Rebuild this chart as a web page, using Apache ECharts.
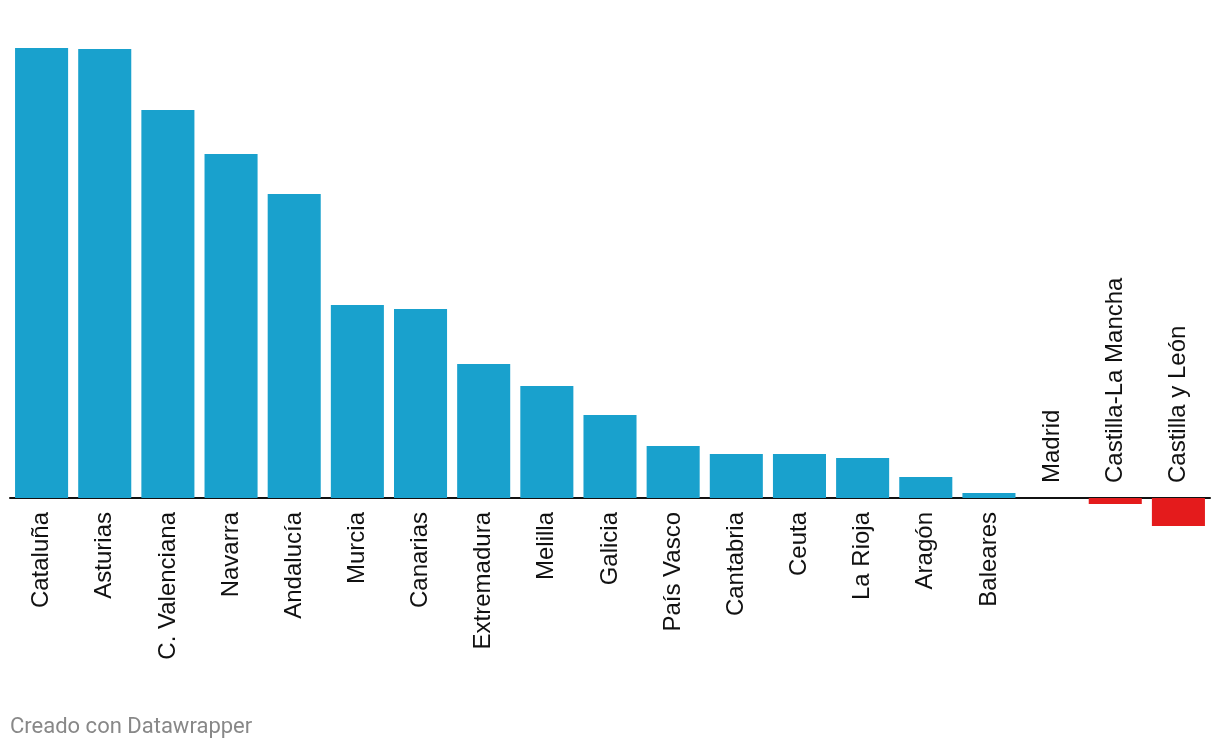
<!DOCTYPE html>
<html lang="es">
<head>
    <meta charset="UTF-8">
    <title>Comunidades</title>
    <script src="https://cdn.jsdelivr.net/npm/echarts@6.0.0/dist/echarts.min.js"></script>
    <style>
        html, body { margin: 0; padding: 0; background: #fff; }
        #chart { width: 1220px; height: 752px; }
    </style>
</head>
<body>
    <div id="chart"></div>
    <script>
        // categorías y valores
        const regiones = ['Cataluña', 'Asturias', 'C. Valenciana', 'Navarra', 'Andalucía', 'Murcia',
            'Canarias', 'Extremadura', 'Melilla', 'Galicia', 'País Vasco', 'Cantabria', 'Ceuta',
            'La Rioja', 'Aragón', 'Baleares', 'Madrid', 'Castilla-La Mancha', 'Castilla y León'];
        const valores = [45.0, 44.9, 38.8, 34.4, 30.4, 19.3, 18.9, 13.4, 11.2, 8.3, 5.2, 4.4, 4.4,
            4.0, 2.1, 0.5, 0, -0.6, -2.8];

        const azul = '#19a1cd';
        const rojo = '#e41b1c';

        const chart = echarts.init(document.getElementById('chart'));

        // etiquetas giradas junto a la línea del cero: debajo si el valor es positivo, encima si no
        const etiquetas = regiones.map((nombre, i) => {
            const pos = valores[i] > 0;
            return {
                value: [nombre, 0],
                label: {
                    position: pos ? 'bottom' : 'top',
                    distance: pos ? 14 : 15,
                    align: pos ? 'right' : 'left'
                }
            };
        });

        const option = {
            animation: false,
            grid: { left: 10, right: 10, top: 48, bottom: 224 },
            graphic: [{
                type: 'text',
                left: 10,
                top: 716,
                style: { text: 'Creado con Datawrapper', fontFamily: 'Roboto', fontSize: 22, fill: '#888' }
            }],
            xAxis: {
                type: 'category',
                data: regiones,
                axisLine: { onZero: true, lineStyle: { color: '#111', width: 2 } },
                axisTick: { show: false },
                axisLabel: { show: false }
            },
            yAxis: {
                type: 'value',
                min: -3,
                max: 45,
                show: false,
                splitLine: { show: false }
            },
            series: [
                {
                    type: 'bar',
                    barCategoryGap: '16%',
                    data: valores.map(v => ({
                        value: v,
                        itemStyle: { color: v < 0 ? rojo : azul }
                    }))
                },
                {
                    type: 'scatter',
                    symbolSize: 0,
                    silent: true,
                    z: 5,
                    itemStyle: { opacity: 1 },
                    label: {
                        show: true,
                        formatter: p => p.name || p.value[0],
                        rotate: 90,
                        verticalAlign: 'middle',
                        fontFamily: 'Liberation Sans',
                        fontSize: 24,
                        color: '#111',
                        opacity: 1
                    },
                    data: etiquetas
                }
            ]
        };
        chart.setOption(option);
    </script>
</body>
</html>
